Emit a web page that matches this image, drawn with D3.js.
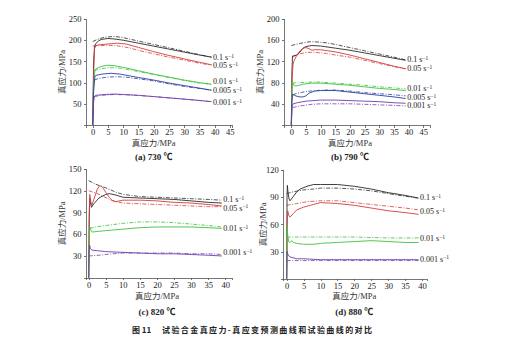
<!DOCTYPE html>
<html lang="zh">
<head>
<meta charset="UTF-8">
<title>真应力-真应变曲线对比</title>
<script src="https://d3js.org/d3.v7.min.js"></script>
<style>
    body { margin: 0; background: #fff; }
    svg { display: block; }
    .axis path, .axis line { stroke: #555; stroke-width: 0.8; fill: none; shape-rendering: crispEdges; }
    .rate { font-family: 'Liberation Serif', 'DejaVu Serif', serif; font-size: 8px; fill: #222; }
    .lab { font-family: 'Liberation Serif', 'Noto Sans CJK SC', serif; font-size: 8.5px; fill: #333; }
    .ttl { font-family: 'Liberation Serif', 'Noto Sans CJK SC', serif; font-weight: bold; font-size: 9px; fill: #222; }
    .cap { font-family: 'Noto Sans CJK SC', sans-serif; font-weight: bold; font-size: 8px; fill: #222; }
</style>
</head>
<body>
<script>
// strain rates (s^-1) and line colours
var colors = {"0.1": "#2a2a2a", "0.05": "#d23c3c", "0.01": "#3ec23e", "0.005": "#2b3d9e", "0.001": "#6e40ae"};

// 730 ℃ : measured (exp) and predicted (pre) curves, [strain, stress]
var exp730_01 = [[0,0],[0.3,150],[0.6,185],[1,192],[2,199],[3,202],[5,204],[7,203],[10,200],[15,193],[20,186],[25,179],[30,172],[35,165],[39,160]];
var pre730_01 = [[0,197],[2,203],[4,207],[7,209],[10,206],[15,198],[20,190],[25,182],[30,174],[35,166],[39,160]];
var exp730_005 = [[0,0],[0.3,120],[0.6,180],[1,187],[2,189],[5,191],[8,193],[11,191],[15,183],[20,173],[25,164],[30,156],[35,148],[39,142]];
var pre730_005 = [[0,186],[2,187],[5,188],[8,187],[12,182],[15,176],[20,168],[25,160],[30,153],[35,146],[39,141]];
var exp730_001 = [[0,0],[0.3,90],[0.7,128],[1,132],[2,136],[4,140],[5,141],[7,140],[10,136],[15,128],[20,120],[25,113],[30,106],[35,100],[39,96]];
var pre730_001 = [[0.5,128],[2,132],[5,135],[8,135],[12,130],[15,126],[20,119],[25,112],[30,105],[35,99],[39,96]];
var exp730_0005 = [[0,0],[0.3,80],[0.7,113],[1,117],[3,120],[6,122],[9,120],[12,116],[15,112],[20,106],[25,99],[30,93],[35,87],[39,82]];
var pre730_0005 = [[0.5,106],[2,110],[5,113],[8,114],[12,112],[15,109],[20,104],[25,97],[30,91],[35,86],[39,82]];
var exp730_0001 = [[0,0],[0.3,55],[0.6,68],[1,70],[4,72],[7,73],[10,72],[15,70],[20,67],[25,64],[30,61],[35,58],[39,55]];
var pre730_0001 = [[0.5,67],[3,70],[7,72],[12,71],[20,67],[30,61],[39,55]];

// 790 ℃
var exp790_01 = [[0,0],[0.2,100],[0.4,130],[1,131],[2,132],[3,138],[4,145],[5,148],[7,150],[10,149],[15,145],[20,141],[25,136],[30,131],[35,126],[39,122]];
var pre790_01 = [[0,150],[3,154],[6,157],[8,157],[12,155],[15,152],[20,146],[25,140],[30,134],[35,128],[39,123]];
var exp790_005 = [[0,0],[0.3,90],[0.6,115],[1,122],[2,133],[3,140],[4,145],[5,146],[6,144],[7,141],[8,142],[10,142],[15,138],[20,132],[25,125],[30,118],[35,111],[39,106]];
var pre790_005 = [[0.5,128],[2,133],[5,137],[8,137],[12,135],[15,132],[20,128],[25,122],[30,116],[35,110],[39,106]];
var exp790_001 = [[0,0],[0.15,60],[0.3,83],[0.6,78],[1,74],[2,74],[4,77],[7,79],[10,79],[15,77],[20,75],[25,72],[30,69],[35,67],[39,65]];
var pre790_001 = [[0.3,79],[3,80],[7,81],[10,81],[15,79],[20,77],[25,75],[30,72],[35,70],[39,68]];
var exp790_0005 = [[0,0],[0.2,45],[0.4,58],[1,56],[2,54],[3,53],[4,53],[5,55],[6,60],[8,64],[10,65],[15,65],[20,62],[25,59],[30,56],[35,53],[39,50]];
var pre790_0005 = [[0.5,57],[2,60],[5,63],[8,65],[12,66],[15,66],[20,64],[25,61],[30,59],[35,57],[39,55]];
var exp790_0001 = [[0,0],[0.3,35],[0.6,40],[2,42],[5,45],[10,47],[15,47],[20,46],[25,45],[30,44],[35,42],[39,41]];
var pre790_0001 = [[0.5,33],[3,36],[7,39],[10,40],[15,40],[20,40],[25,39],[30,38],[35,37],[39,36]];

// 820 ℃
var exp820_01 = [[0,0],[0.15,80],[0.3,110],[0.5,104],[0.8,97],[1.5,102],[3,110],[5,115],[6,116],[8,114],[10,111],[15,110],[20,109],[25,108],[30,106],[35,104],[39,103]];
var pre820_01 = [[0,134],[2,129],[5,124],[8,118],[10,115],[15,112],[20,111],[25,110],[30,109],[35,108],[39,107]];
var exp820_005 = [[0,0],[0.15,90],[0.3,115],[0.6,105],[0.9,100],[1.5,108],[2.5,122],[3.2,127],[4,125],[5,118],[6,111],[7,106],[8,105],[10,107],[15,107],[20,106],[25,104],[30,103],[35,101],[39,99]];
var pre820_005 = [[0,120],[2,117],[4,113],[6,108],[8,105],[10,103],[15,102],[20,101],[25,100],[30,99],[35,98],[39,98]];
var exp820_001 = [[0,0],[0.15,50],[0.3,70],[0.6,66],[1,63],[3,64],[5,65],[10,67],[15,69],[20,70],[25,70],[30,70],[35,69],[39,68]];
var pre820_001 = [[0.3,68],[2,70],[5,72],[10,75],[15,77],[20,77],[25,76],[30,74],[35,72],[39,70]];
var exp820_0001 = [[0,0],[0.1,35],[0.25,45],[0.5,40],[1,38],[3,37],[5,36],[10,35],[15,34],[20,33],[25,33],[30,32],[35,31],[39,30]];
var pre820_0001 = [[0,30],[3,31],[7,33],[10,34],[15,34],[20,34],[25,34],[30,33],[35,33],[39,32]];

// 880 ℃
var exp880_01 = [[0,0],[0.1,90],[0.2,103],[0.4,95],[0.7,88],[1,86],[2,91],[3,96],[4,99],[6,102],[8,104],[10,104],[15,104],[20,102],[25,99],[30,95],[35,92],[39,89]];
var pre880_01 = [[0,94],[2,96],[5,98],[8,99],[10,100],[15,100],[20,99],[25,97],[30,94],[35,91],[39,89]];
var exp880_005 = [[0,0],[0.15,60],[0.3,75],[0.6,70],[1,68],[2,72],[3,76],[5,79],[7,81],[8,82],[10,84],[15,83],[20,81],[25,78],[30,75],[35,73],[39,71]];
var pre880_005 = [[0,81],[3,83],[6,85],[10,86],[15,86],[20,84],[25,82],[30,80],[35,78],[39,76]];
var exp880_001 = [[0,0],[0.08,45],[0.15,58],[0.3,48],[0.6,41],[1,40],[1.5,42],[2,40],[3,39],[5,38],[8,38],[10,39],[15,40],[20,41],[25,42],[30,41],[35,40],[39,40]];
var pre880_001 = [[0,46],[10,46],[20,46],[30,45],[39,45]];
var exp880_0001 = [[0,0],[0.08,25],[0.15,30],[0.4,26],[1,24],[3,22],[5,22],[10,21],[20,21],[30,21],[39,21]];
var pre880_0001 = [[0,20],[10,20],[20,20],[30,20],[39,20]];

// tick values
var xTicks45 = [0,5,10,15,20,25,30,35,40,45];
var xTicks40 = [0,5,10,15,20,25,30,35,40];
var yTicks730 = [50,100,150,200,250];
var yTicks790 = [40,80,120,160,200];
var yTicks820 = [30,60,90,120,150];
var yTicks880 = [30,60,90,120];

// stress level where each rate label sits
var labelY730 = [158,140,102,81,52];
var labelY790 = [123,106,69,52,36];
var labelY820 = [108,96,68,35];
var labelY880 = [89,74,44.5,21.5];

var W = 509, H = 342;
var svg = d3.select("body").append("svg").attr("width", W).attr("height", H);
svg.append("rect").attr("width", W).attr("height", H).attr("fill", "#fff");

var panels = [
    {title: "(a) 730 ℃", xd: [-2.2, 45.7], xr: [86, 232], yd: [0, 250], yr: [125, 19], xt: xTicks45, yt: yTicks730,
     rates: ["0.1","0.05","0.01","0.005","0.001"], labelY: labelY730,
     exp: [exp730_01, exp730_005, exp730_001, exp730_0005, exp730_0001],
     pre: [pre730_01, pre730_005, pre730_001, pre730_0005, pre730_0001],
     ylabX: 62, xlabY: 146, titleY: 160},
    {title: "(b) 790 ℃", xd: [-2.5, 47.3], xr: [284, 430], yd: [0, 200], yr: [125, 19], xt: xTicks45, yt: yTicks790,
     rates: ["0.1","0.05","0.01","0.005","0.001"], labelY: labelY790,
     exp: [exp790_01, exp790_005, exp790_001, exp790_0005, exp790_0001],
     pre: [pre790_01, pre790_005, pre790_001, pre790_0005, pre790_0001],
     ylabX: 260, xlabY: 146, titleY: 160},
    {title: "(c) 820 ℃", xd: [-0.8, 41.9], xr: [86, 231.7], yd: [0, 150], yr: [277.7, 169], xt: xTicks40, yt: yTicks820,
     rates: ["0.1","0.05","0.01","0.001"], labelY: labelY820,
     exp: [exp820_01, exp820_005, exp820_001, exp820_0001],
     pre: [pre820_01, pre820_005, pre820_001, pre820_0001],
     ylabX: 62, xlabY: 298.5, titleY: 315},
    {title: "(d) 880 ℃", xd: [-1, 41.4], xr: [283.3, 426.7], yd: [0, 120], yr: [278.7, 170], xt: xTicks40, yt: yTicks880,
     rates: ["0.1","0.05","0.01","0.001"], labelY: labelY880,
     exp: [exp880_01, exp880_005, exp880_001, exp880_0001],
     pre: [pre880_01, pre880_005, pre880_001, pre880_0001],
     ylabX: 263, xlabY: 298.5, titleY: 315}
];

function styleTicks(sel) {
    sel.attr("font-family", null).attr("font-size", null);
    sel.selectAll("text")
        .attr("font-family", "'Liberation Serif', 'DejaVu Serif', serif")
        .attr("font-size", "8.5px").attr("fill", "#222");
}

panels.forEach(function(p) {
    var x = d3.scaleLinear().domain(p.xd).range(p.xr);
    var y = d3.scaleLinear().domain(p.yd).range(p.yr);
    var g = svg.append("g");

    var line = d3.line()
        .x(function(d) { return x(d[0]); })
        .y(function(d) { return y(d[1]); });

    // predicted: dash-dot, measured: solid
    p.pre.forEach(function(c, i) {
        g.append("path").datum(c).attr("d", line)
            .attr("fill", "none").attr("stroke", colors[p.rates[i]])
            .attr("stroke-width", 0.8).attr("stroke-dasharray", "4,1.5,1,1.5");
    });
    p.exp.forEach(function(c, i) {
        g.append("path").datum(c).attr("d", line)
            .attr("fill", "none").attr("stroke", colors[p.rates[i]])
            .attr("stroke-width", 0.9);
    });

    g.append("g").attr("class", "axis")
        .attr("transform", "translate(" + p.xr[0] + ",0)")
        .call(d3.axisLeft(y).tickValues(p.yt).tickSize(2.5).tickPadding(2).tickFormat(d3.format("d")))
        .call(styleTicks);
    g.append("g").attr("class", "axis")
        .attr("transform", "translate(0," + p.yr[0] + ")")
        .call(d3.axisBottom(x).tickValues(p.xt).tickSize(2.5).tickPadding(1.5).tickFormat(d3.format("d")))
        .call(styleTicks);

    // rate labels at the curve ends
    p.rates.forEach(function(r, i) {
        var t = g.append("text").attr("class", "rate")
            .attr("x", x(39) + 1.5).attr("y", y(p.labelY[i]))
            .attr("dy", "0.3em");
        t.append("tspan").text(r + " s");
        t.append("tspan").attr("dy", "-0.4em").attr("font-size", "5.5px").text("−1");
    });

    var cx = (x(0) + x(40)) / 2;
    g.append("text").attr("class", "lab")
        .attr("x", cx).attr("y", p.xlabY).attr("text-anchor", "middle")
        .text("真应力/MPa");
    g.append("text").attr("class", "lab")
        .attr("transform", "translate(" + p.ylabX + "," + ((p.yr[0] + p.yr[1]) / 2) + ") rotate(-90)")
        .attr("text-anchor", "middle").attr("dy", "0.35em")
        .text("真应力/MPa");
    g.append("text").attr("class", "ttl")
        .attr("x", cx).attr("y", p.titleY).attr("text-anchor", "middle")
        .text(p.title);
});

svg.append("text").attr("class", "cap").attr("x", 132).attr("y", 333).text("图 11");
svg.append("text").attr("class", "cap").attr("x", 162).attr("y", 333)
    .attr("textLength", 210).attr("lengthAdjust", "spacing")
    .text("试验合金真应力-真应变预测曲线和试验曲线的对比");
</script>
</body>
</html>
